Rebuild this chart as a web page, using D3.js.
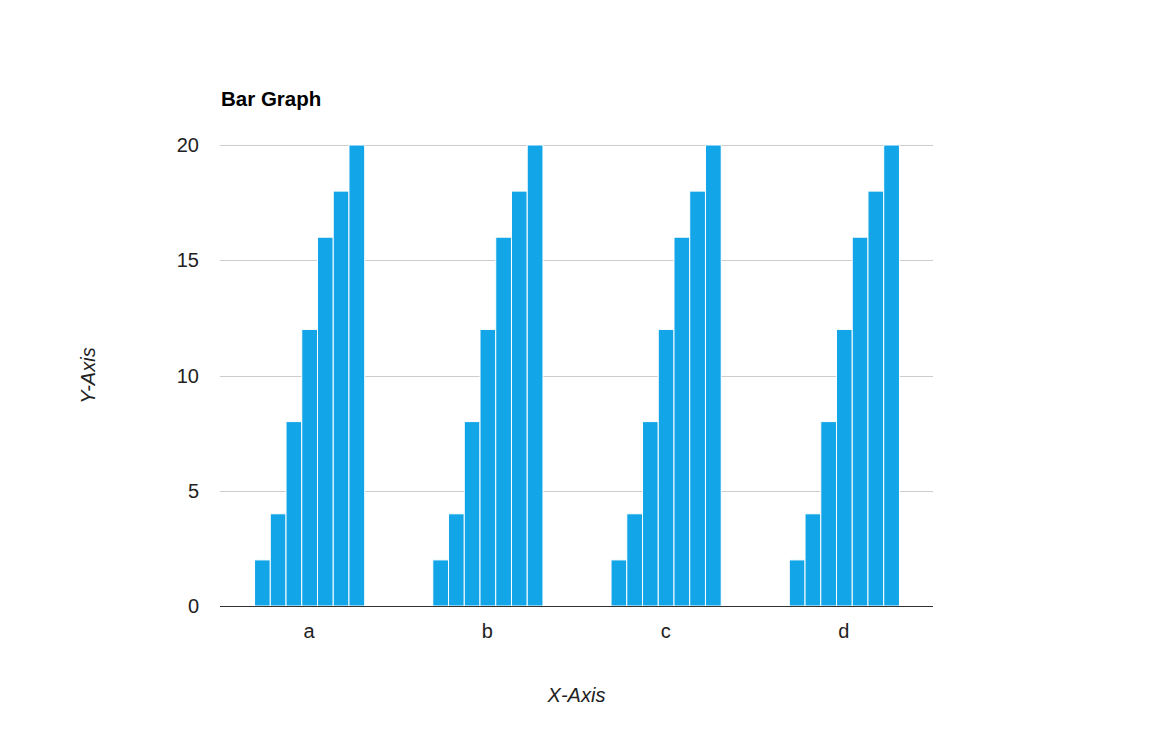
<!DOCTYPE html>
<html>
<head>
<meta charset="utf-8">
<script src="https://cdn.jsdelivr.net/npm/d3@7"></script>
<style>
  body { margin: 0; background: #fff; }
  svg { display: block; font-family: 'Liberation Sans', Arial, sans-serif; }
</style>
</head>
<body>
<div id="chart"></div>
<script>
// categories and the seven series values (same in every group)
const categories = ['a', 'b', 'c', 'd'];
const seriesNames = ['s1', 's2', 's3', 's4', 's5', 's6', 's7'];
const seriesValues = [2, 4, 8, 12, 16, 18, 20];
const yTicks = [0, 5, 10, 15, 20];

const W = 1152, H = 750;
const margin = { top: 145, right: 219, bottom: 144, left: 220 };
const width = W - margin.left - margin.right;
const height = H - margin.top - margin.bottom;

const svg = d3.select('#chart').append('svg')
  .attr('width', W)
  .attr('height', H);

const g = svg.append('g')
  .attr('transform', `translate(${margin.left},${margin.top})`);

// scales
const x0 = d3.scaleBand()
  .domain(categories)
  .range([0, width])
  .paddingInner(0.382)
  .paddingOuter(0.191);

const x1 = d3.scaleBand()
  .domain(seriesNames)
  .range([0, x0.bandwidth()]);

const y = d3.scaleLinear()
  .domain([0, 20])
  .range([height, 0]);

// gridlines
g.append('g')
  .selectAll('line')
  .data(yTicks.filter(d => d > 0))
  .join('line')
  .attr('x1', 0)
  .attr('x2', width)
  .attr('y1', d => Math.round(y(d)) + 0.5)
  .attr('y2', d => Math.round(y(d)) + 0.5)
  .attr('stroke', '#cccccc');

// y tick labels
g.append('g')
  .selectAll('text')
  .data(yTicks)
  .join('text')
  .attr('x', -21)
  .attr('y', d => y(d) + 7)
  .attr('text-anchor', 'end')
  .attr('font-size', 20)
  .attr('fill', '#222')
  .text(d => d);

// bars
const groups = g.append('g')
  .selectAll('g')
  .data(categories)
  .join('g')
  .attr('transform', d => `translate(${x0(d) + 0.5},0)`);

groups.selectAll('rect')
  .data(seriesNames.map((s, i) => ({ key: s, value: seriesValues[i] })))
  .join('rect')
  .attr('x', d => x1(d.key))
  .attr('y', d => y(d.value))
  .attr('width', x1.bandwidth())
  .attr('height', d => height - y(d.value))
  .attr('fill', '#12a5e8')
  .attr('stroke', '#ffffff')
  .attr('stroke-width', 1);

// baseline
g.append('line')
  .attr('x1', 0)
  .attr('x2', width)
  .attr('y1', height + 0.5)
  .attr('y2', height + 0.5)
  .attr('stroke', '#333333');

// x labels
g.append('g')
  .selectAll('text')
  .data(categories)
  .join('text')
  .attr('x', d => x0(d) + x0.bandwidth() / 2)
  .attr('y', height + 32)
  .attr('text-anchor', 'middle')
  .attr('font-size', 20)
  .attr('fill', '#222')
  .text(d => d);

// title
svg.append('text')
  .attr('x', 221)
  .attr('y', 106)
  .attr('font-size', 20.5)
  .attr('font-weight', 'bold')
  .attr('fill', '#000')
  .text('Bar Graph');

// axis titles
svg.append('text')
  .attr('x', margin.left + width / 2)
  .attr('y', 702)
  .attr('text-anchor', 'middle')
  .attr('font-size', 20)
  .attr('font-style', 'italic')
  .attr('fill', '#222')
  .text('X-Axis');

svg.append('text')
  .attr('transform', `translate(95,${margin.top + height / 2}) rotate(-90)`)
  .attr('text-anchor', 'middle')
  .attr('font-size', 20)
  .attr('font-style', 'italic')
  .attr('fill', '#222')
  .text('Y-Axis');
</script>
</body>
</html>
